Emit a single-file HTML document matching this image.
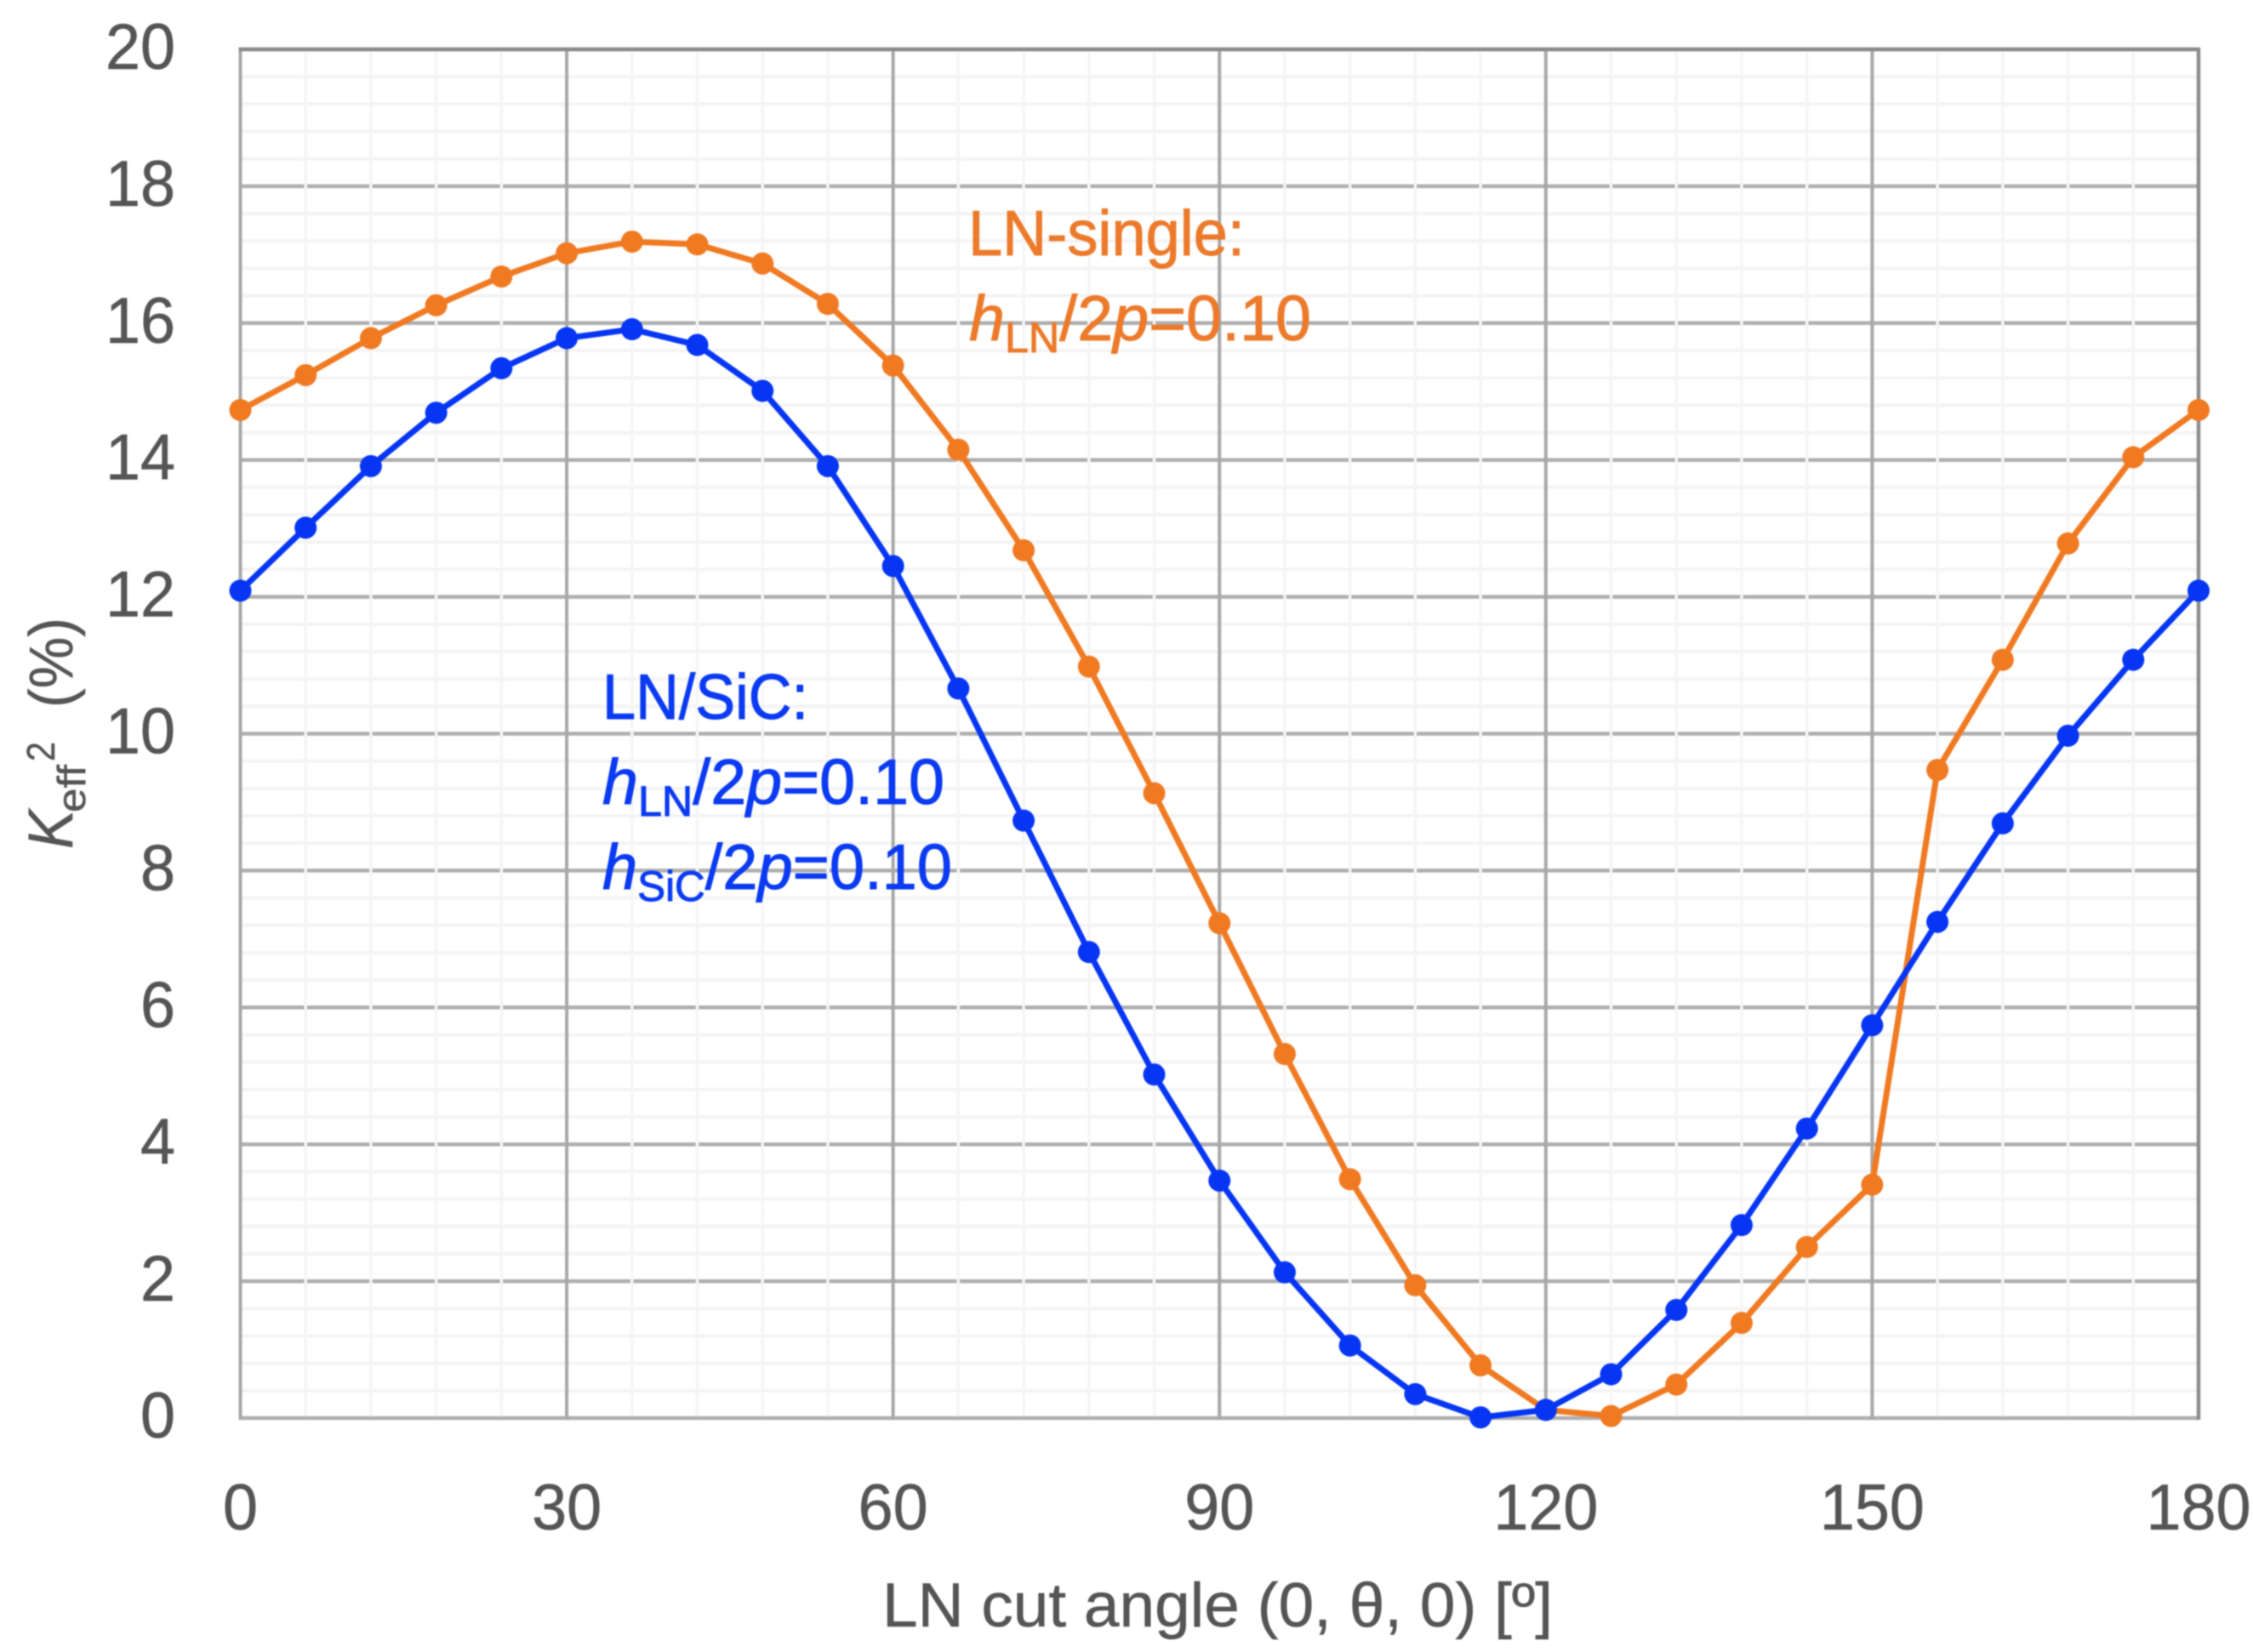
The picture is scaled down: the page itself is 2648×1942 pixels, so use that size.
<!DOCTYPE html>
<html lang="en">
<head>
<meta charset="utf-8">
<title>Keff2 versus LN cut angle</title>
<style>
html,body{margin:0;padding:0;background:#fff;width:2648px;height:1942px;overflow:hidden}
svg{display:block;filter:blur(0.8px)}
text{font-family:"Liberation Sans",sans-serif}
.tick{fill:#555;stroke:#555;stroke-width:0.6px;font-size:76px}
.axis{fill:#555;stroke:#555;stroke-width:0.5px;font-size:73px}
.blue{fill:#0a3af2;stroke:#0a3af2;stroke-width:1px;font-size:75px}
.orange{fill:#ec7a2a;stroke:#ec7a2a;stroke-width:1px;font-size:75px}
</style>
</head>
<body>
<svg id="chart" xmlns="http://www.w3.org/2000/svg" width="2648" height="1942" viewBox="0 0 2648 1942">
  <rect x="0" y="0" width="2648" height="1942" fill="#ffffff"/>
  <g id="grid"></g>
  <g id="xticks"></g>
  <g id="yticks"></g>
  <g id="series"></g>

  <text class="axis" x="1037" y="1912" textLength="788" lengthAdjust="spacingAndGlyphs">LN cut angle (0, θ, 0) [º]</text>

  <g fill="#555" stroke="#555" stroke-width="0.5">
    <text transform="translate(85,998) rotate(-90)" font-size="74" font-style="italic" textLength="46" lengthAdjust="spacingAndGlyphs">K</text>
    <text transform="translate(100,955) rotate(-90)" font-size="46" textLength="56" lengthAdjust="spacingAndGlyphs">eff</text>
    <text transform="translate(64,895) rotate(-90)" font-size="46" textLength="23" lengthAdjust="spacingAndGlyphs">2</text>
    <text transform="translate(85,832) rotate(-90)" font-size="72" textLength="106" lengthAdjust="spacingAndGlyphs">(%)</text>
  </g>

  <g>
    <text class="blue" x="708" y="845" textLength="242" lengthAdjust="spacingAndGlyphs">LN/SiC:</text>
    <text class="blue" x="708" y="945" textLength="402" lengthAdjust="spacingAndGlyphs"><tspan font-style="italic">h</tspan><tspan font-size="50" dy="14">LN</tspan><tspan dy="-14">/2</tspan><tspan font-style="italic">p</tspan>=0.10</text>
    <text class="blue" x="708" y="1045" textLength="411" lengthAdjust="spacingAndGlyphs"><tspan font-style="italic">h</tspan><tspan font-size="50" dy="14">SiC</tspan><tspan dy="-14">/2</tspan><tspan font-style="italic">p</tspan>=0.10</text>
  </g>
  <g>
    <text class="orange" x="1138" y="300" textLength="325" lengthAdjust="spacingAndGlyphs">LN-single:</text>
    <text class="orange" x="1139" y="400" textLength="402" lengthAdjust="spacingAndGlyphs"><tspan font-style="italic">h</tspan><tspan font-size="50" dy="14">LN</tspan><tspan dy="-14">/2</tspan><tspan font-style="italic">p</tspan>=0.10</text>
  </g>
</svg>
<script>
const angles = [0,6,12,18,24,30,36,42,48,54,60,66,72,78,84,90,96,102,108,114,120,126,132,138,144,150,156,162,168,174,180];
const lnSingle = [14.73,15.24,15.78,16.26,16.68,17.02,17.19,17.15,16.87,16.28,15.38,14.15,12.68,10.98,9.13,7.23,5.32,3.49,1.94,0.77,0.12,0.03,0.49,1.39,2.5,3.41,9.47,11.08,12.78,14.04,14.73];
const lnSic = [12.09,13.01,13.91,14.69,15.34,15.78,15.91,15.68,15.01,13.91,12.45,10.66,8.73,6.81,5.02,3.47,2.13,1.06,0.35,0.01,0.12,0.64,1.58,2.82,4.23,5.74,7.25,8.69,9.97,11.08,12.09];
const xTickLabels = [0,30,60,90,120,150,180];
const yTickLabels = [0,2,4,6,8,10,12,14,16,18,20];
const xMinorTicks = [6,12,18,24,36,42,48,54,66,72,78,84,96,102,108,114,126,132,138,144,156,162,168,174];
const yMinorTicks = [0.4,0.8,1.2,1.6,2.4,2.8,3.2,3.6,4.4,4.8,5.2,5.6,6.4,6.8,7.2,7.6,8.4,8.8,9.2,9.6,10.4,10.8,11.2,11.6,12.4,12.8,13.2,13.6,14.4,14.8,15.2,15.6,16.4,16.8,17.2,17.6,18.4,18.8,19.2,19.6];

const plotLeft = 282.5, plotRight = 2584, plotTop = 58, plotBottom = 1667;
const xMax = 180, yMax = 20;
function xScale(v){ return plotLeft + (v / xMax) * (plotRight - plotLeft); }
function yScale(v){ return plotBottom - (v / yMax) * (plotBottom - plotTop); }

const NS = 'http://www.w3.org/2000/svg';
function make(tag, attrs, parent){
  const el = document.createElementNS(NS, tag);
  for (const k in attrs) el.setAttribute(k, attrs[k]);
  parent.appendChild(el);
  return el;
}
const grid = document.getElementById('grid');
const xticks = document.getElementById('xticks');
const yticks = document.getElementById('yticks');
const series = document.getElementById('series');

yMinorTicks.forEach(function(v){
  const el = make('line', {x1:plotLeft, x2:plotRight, y1:yScale(v), y2:yScale(v), stroke:'#f4f4f4', 'stroke-width':4}, grid);
  
  
});
yTickLabels.forEach(function(v){
  const el = make('line', {x1:plotLeft, x2:plotRight, y1:yScale(v), y2:yScale(v), stroke:'#afafaf', 'stroke-width':4.5}, grid);
  
  
});
xMinorTicks.forEach(function(v){
  const el = make('line', {x1:xScale(v), x2:xScale(v), y1:plotTop + 2, y2:plotBottom - 2, stroke:'#f5f5f5', 'stroke-width':3.5}, grid);
  
  
});
xTickLabels.forEach(function(v){
  const el = make('line', {x1:xScale(v), x2:xScale(v), y1:plotTop, y2:plotBottom + 2, stroke:'#a8a8a8', 'stroke-width':4}, grid);
  
  
});
const topEdge = make('line', {x1:plotLeft - 2, x2:plotRight + 2, y1:plotTop, y2:plotTop, stroke:'#8c8c8c', 'stroke-width':4.5}, grid);


const rightEdge = make('line', {x1:plotRight, x2:plotRight, y1:plotTop, y2:plotBottom + 2, stroke:'#8c8c8c', 'stroke-width':4.5}, grid);



xTickLabels.forEach(function(v){
  const s = String(v);
  const el = make('text', {class:'tick', x:xScale(v), y:1798, 'text-anchor':'middle', textLength:s.length * 41, lengthAdjust:'spacingAndGlyphs'}, xticks);
  el.textContent = s;
  
  
});
yTickLabels.forEach(function(v){
  const s = String(v);
  const el = make('text', {class:'tick', x:206, y:yScale(v) + 23, 'text-anchor':'end', textLength:s.length * 41, lengthAdjust:'spacingAndGlyphs'}, yticks);
  el.textContent = s;
  
  
});

function pointsOf(values){
  return values.map(function(v, i){ return xScale(angles[i]) + ',' + yScale(v); }).join(' ');
}

const orangeColor = '#f07a22', blueColor = '#0636f4';

const orangeGroup = make('g', {}, series);


const orangeLine = make('polyline', {points:pointsOf(lnSingle), fill:'none', stroke:orangeColor, 'stroke-width':7, 'stroke-linejoin':'round'}, orangeGroup);


lnSingle.forEach(function(v, i){
  const el = make('circle', {cx:xScale(angles[i]), cy:yScale(v), r:13, fill:orangeColor}, orangeGroup);
  
  
});

const blueGroup = make('g', {}, series);


const blueLine = make('polyline', {points:pointsOf(lnSic), fill:'none', stroke:blueColor, 'stroke-width':7, 'stroke-linejoin':'round'}, blueGroup);


lnSic.forEach(function(v, i){
  const el = make('circle', {cx:xScale(angles[i]), cy:yScale(v), r:13, fill:blueColor}, blueGroup);
  
  
});
</script>
</body>
</html>
